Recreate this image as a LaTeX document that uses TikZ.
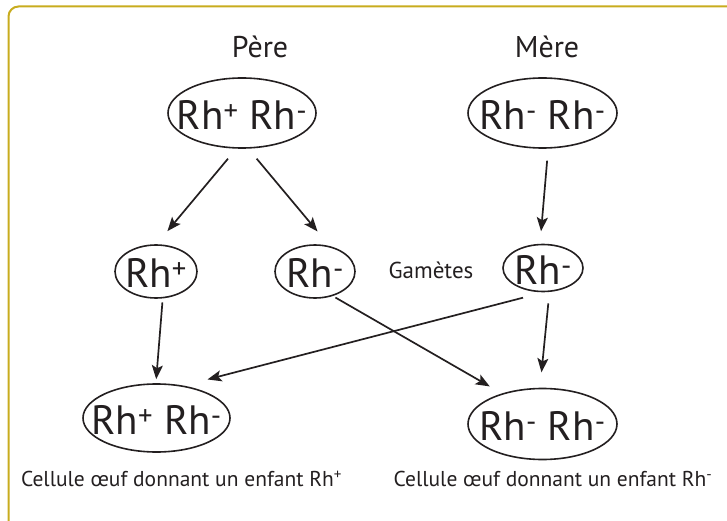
\documentclass[tikz,border=0pt]{standalone}
\usepackage{fontspec}
\setmainfont{PT Sans}
\usetikzlibrary{arrows.meta,shapes.geometric}
\definecolor{framegold}{RGB}{200,172,30}
\definecolor{ink}{RGB}{35,31,32}
% allele symbols with raised signs
\newcommand\rhp{Rh\textsuperscript{+}}
\newcommand\rhm{Rh\textsuperscript{-}}
% text of zero size, centred on its capitals, so the ellipse keeps its set size
\newcommand\incell[1]{\smash{\makebox[0pt]{\raisebox{\dimexpr-.35em-2pt\relax}{#1}}}}
\begin{document}
\begin{tikzpicture}[x=1pt,y=-1pt,
  cell/.style={ellipse, draw=ink, line width=1.6pt, inner sep=0pt,
    text=ink, font=\fontsize{41}{41}\selectfont},
  big/.style={cell, minimum width=148pt, minimum height=70pt},
  small/.style={cell, minimum width=81pt, minimum height=53pt},
  label/.style={text=ink, inner sep=0pt},
  arrow/.style={draw=ink, line width=1.7pt,
    -{Stealth[length=14pt,width=11pt,inset=3pt]}}
]
\useasboundingbox (0,0) rectangle (727,521);
% outer frame, open to the right and bottom
\begin{scope}
  \clip (0,0) rectangle (727,521);
  \draw[framegold, line width=2pt, rounded corners=10pt] (8.5,6.5) rectangle (760,560);
\end{scope}

% parents
\node[label, font=\fontsize{30}{30}\selectfont] (lpere) at (260,47) {Père};
\node[label, font=\fontsize{30}{30}\selectfont] (lmere) at (547,47) {Mère};
\node[big] (pere) at (242,113) {\incell{\rhp{} \rhm}};
\node[big, minimum width=149pt] (mere) at (542.5,113) {\incell{\rhm{} \rhm}};

% gametes
\node[small, minimum width=82pt] (gp) at (156,271.5) {\incell{\rhp}};
\node[small, minimum width=80pt] (gm) at (315,271.5) {\incell{\rhm}};
\node[small, minimum width=80pt, minimum height=47pt] (gmm) at (543,268) {\incell{\rhm}};
\node[label, font=\fontsize{23}{23}\selectfont] (lgam) at (431,270) {Gamètes};

% zygotes
\node[big, minimum width=147pt, minimum height=68pt] (zl) at (156.5,418) {\incell{\rhp{} \rhm}};
\node[big, minimum width=149pt, minimum height=71pt] (zr) at (542.5,424) {\incell{\rhm{} \rhm}};
\node[label, font=\fontsize{21.5}{21.5}\selectfont] (cl) at (181.5,479) {Cellule œuf donnant un enfant \rhp};
\node[label, font=\fontsize{21.5}{21.5}\selectfont] (cr) at (553,479) {Cellule œuf donnant un enfant \rhm};

% transmissions
\draw[arrow, shorten <=13pt, shorten >=17pt] (pere.-99.3) -- (gp.89.6);
\draw[arrow, shorten <=13pt, shorten >=19pt] (pere.-80.7) -- (gm.60.4);
\draw[arrow, shorten <=12pt, shorten >=12.5pt] (mere.-81) -- (gmm.97);
\draw[arrow, shorten <=4pt, shorten >=4pt] (gp.-76.4) -- (zl.91);
\draw[arrow, shorten <=3pt, shorten >=14pt] (gm.-54.3) -- (zr.143.4);
\draw[arrow, shorten <=21.5pt, shorten >=24.6pt] (gmm.-88) -- (zl.50);
\draw[arrow, shorten <=11.5pt, shorten >=15.5pt] (gmm.-75.4) -- (zr.94.8);
\end{tikzpicture}
\end{document}
